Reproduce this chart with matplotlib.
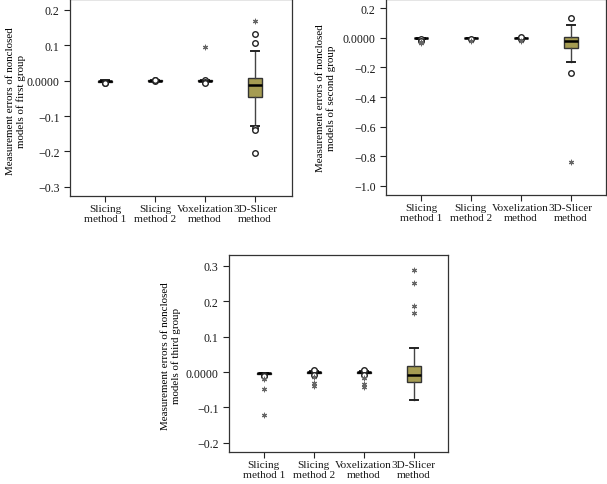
import matplotlib
matplotlib.use("Agg")
import matplotlib.pyplot as plt
from matplotlib.ticker import FuncFormatter

plt.rcParams['font.family'] = ['Liberation Serif', 'DejaVu Serif']

categories = ["Slicing\nmethod 1", "Slicing\nmethod 2", "Voxelization\nmethod", "3D-Slicer\nmethod"]

# group 1 box statistics
g1_q1 = [-0.003, -0.001, -0.001, -0.047]
g1_med = [-0.001, 0.000, 0.000, -0.013]
g1_q3 = [0.000, 0.001, 0.001, 0.007]
g1_lo = [-0.004, -0.002, -0.002, -0.127]
g1_hi = [0.001, 0.002, 0.002, 0.084]
g1_circ_x = [1, 1, 1, 2, 2, 2, 3, 3, 3, 4, 4, 4, 4, 4]
g1_circ_y = [-0.004, -0.006, -0.007, 0.002, -0.002, 0.003, 0.003, -0.003, -0.006, 0.108, 0.132, -0.134, -0.139, -0.204]
g1_star_x = [3, 4]
g1_star_y = [0.096, 0.169]

# group 2
g2_q1 = [-0.004, -0.002, -0.002, -0.070]
g2_med = [-0.002, 0.000, 0.000, -0.022]
g2_q3 = [0.000, 0.001, 0.001, 0.004]
g2_lo = [-0.006, -0.003, -0.003, -0.164]
g2_hi = [0.002, 0.002, 0.002, 0.090]
g2_circ_x = [1, 1, 2, 3, 3, 4, 4]
g2_circ_y = [-0.010, -0.018, -0.008, -0.008, 0.004, 0.133, -0.236]
g2_star_x = [1, 1, 2, 3, 4]
g2_star_y = [-0.028, -0.038, -0.020, -0.020, -0.840]

# group 3
g3_q1 = [-0.005, -0.002, -0.002, -0.028]
g3_med = [-0.004, 0.000, 0.000, -0.009]
g3_q3 = [-0.003, 0.001, 0.001, 0.017]
g3_lo = [-0.006, -0.003, -0.003, -0.078]
g3_hi = [-0.002, 0.002, 0.002, 0.069]
g3_circ_x = [1, 1, 2, 2, 2, 3, 3, 3]
g3_circ_y = [-0.008, -0.012, 0.004, 0.007, -0.007, 0.004, 0.007, -0.007]
g3_star_x = [1, 1, 1, 2, 2, 2, 3, 3, 3, 4, 4, 4, 4]
g3_star_y = [-0.020, -0.047, -0.120, -0.015, -0.030, -0.040, -0.018, -0.033, -0.043, 0.290, 0.252, 0.186, 0.167]

groups = [
    dict(q1=g1_q1, med=g1_med, q3=g1_q3, lo=g1_lo, hi=g1_hi, cx=g1_circ_x, cy=g1_circ_y, sx=g1_star_x, sy=g1_star_y,
         ylim=(-0.326, 0.231), ticks=[-0.3, -0.2, -0.1, 0.0, 0.1, 0.2], xlim=(0.3, 4.74),
         label="Measurement errors of nonclosed\nmodels of first group", lx=-0.2, ly=0.485,
         pos=[70/607, 1-197/485, 222/607, 197/485]),
    dict(q1=g2_q1, med=g2_med, q3=g2_q3, lo=g2_lo, hi=g2_hi, cx=g2_circ_x, cy=g2_circ_y, sx=g2_star_x, sy=g2_star_y,
         ylim=(-1.063, 0.263), ticks=[-1.0, -0.8, -0.6, -0.4, -0.2, 0.0, 0.2], xlim=(0.3, 4.71),
         label="Measurement errors of nonclosed\nmodels of second group", lx=-0.228, ly=0.5,
         pos=[386/607, 1-196/485, 220/607, 196/485]),
    dict(q1=g3_q1, med=g3_med, q3=g3_q3, lo=g3_lo, hi=g3_hi, cx=g3_circ_x, cy=g3_circ_y, sx=g3_star_x, sy=g3_star_y,
         ylim=(-0.226, 0.331), ticks=[-0.2, -0.1, 0.0, 0.1, 0.2, 0.3], xlim=(0.306, 4.69),
         label="Measurement errors of nonclosed\nmodels of third group", lx=-0.218, ly=0.49,
         pos=[229/607, 1-453/485, 219/607, 197/485]),
]

box_color = "#a59c52"


def fmt(v, _):
    if abs(v) < 1e-9:
        return "0.0000"
    s = f"{v:.1f}"
    return s.replace("-", "\u2212")


fig = plt.figure(figsize=(6.07, 4.85), dpi=100)
for g in groups:
    ax = fig.add_axes(g["pos"])
    stats = []
    for i in range(4):
        stats.append(dict(q1=g["q1"][i], med=g["med"][i], q3=g["q3"][i],
                          whislo=g["lo"][i], whishi=g["hi"][i], fliers=[]))
    ax.bxp(stats, positions=range(1, 5), widths=0.28, patch_artist=True, showfliers=False,
           boxprops=dict(facecolor=box_color, edgecolor="#333333", linewidth=1.0),
           medianprops=dict(color="black", linewidth=1.8),
           whiskerprops=dict(color="#444444", linewidth=1.0),
           capprops=dict(color="#222222", linewidth=1.4),
           capwidths=0.16)
    ax.scatter(g["cx"], g["cy"], s=16, facecolor="white", edgecolor="#222222", linewidth=1.0, zorder=4)
    ax.scatter(g["sx"], g["sy"], s=11, marker=(6, 2, 0), color="#666666", linewidth=0.8, zorder=4)
    ax.set_xlim(*g["xlim"])
    ax.set_ylim(*g["ylim"])
    ax.set_yticks(g["ticks"])
    ax.yaxis.set_major_formatter(FuncFormatter(fmt))
    ax.set_xticks(range(1, 5))
    ax.set_xticklabels(categories, fontsize=8.1, linespacing=1.05)
    ax.tick_params(axis="y", labelsize=8.6, length=4, width=0.8, colors="#222222")
    ax.tick_params(axis="x", length=4, width=0.8, colors="#222222", pad=2)
    for lab in ax.get_xticklabels() + ax.get_yticklabels():
        lab.set_color("#1a1a1a")
    for sp in ax.spines.values():
        sp.set_color("#333333")
        sp.set_linewidth(0.9)
    ax.set_ylabel(g["label"], fontsize=7.9, linespacing=1.15)
    ax.yaxis.set_label_coords(g["lx"], g["ly"])

fig.savefig("out.png", dpi=100)
